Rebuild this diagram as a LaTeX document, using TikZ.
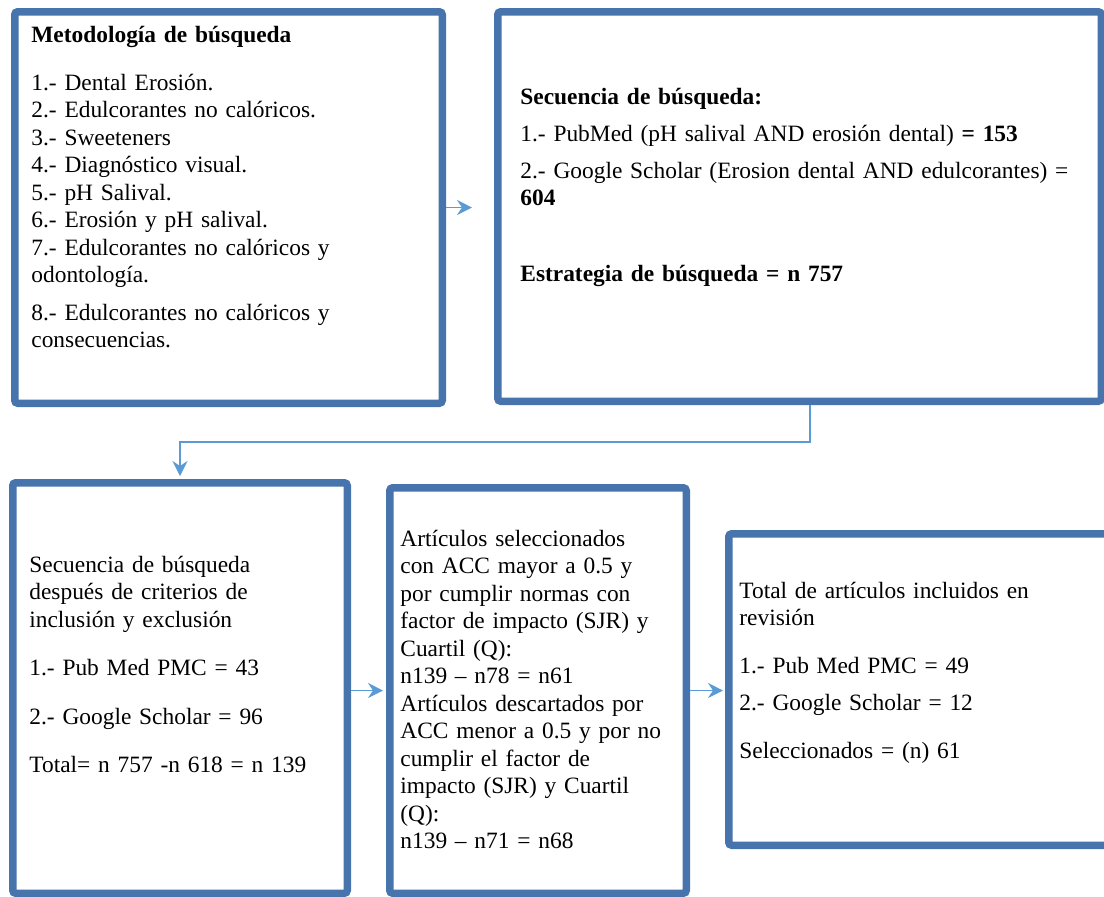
\documentclass[tikz,border=0pt]{standalone}
\usepackage{fontspec}
\setmainfont{Liberation Serif}
\usetikzlibrary{arrows.meta,shadows}

\definecolor{boxblue}{RGB}{71,116,172}
\definecolor{linkblue}{RGB}{91,155,213}

\begin{document}
\begin{tikzpicture}[x=0.5pt,y=-0.5pt,
  box/.style={draw=boxblue,line width=3.75pt,fill=white,rounded corners=1.5pt,
    anchor=north west,inner sep=0pt,
    drop shadow={shadow xshift=1.2pt,shadow yshift=-1.2pt,opacity=.3,fill=black!60}},
  txt/.style={anchor=base west,inner sep=0pt,align=left,text width=#1,
    font=\fontsize{11.7}{13.75}\selectfont},
  txt/.default=200pt,
  link/.style={draw=linkblue,line width=.7pt,-{Stealth[length=7.5pt,width=7.5pt,inset=2.5pt]}}]
	\useasboundingbox (0,0) rectangle (1104,896);
	\clip (0,0) rectangle (1104,896);
	% boxes
	\node[box,minimum width=213.75pt,minimum height=195.75pt] (metodo) at (11,8) {};
	\node[box,minimum width=301.75pt,minimum height=194.75pt] (secuencia) at (494,8) {};
	\node[box,minimum width=167.25pt,minimum height=205.25pt] (filtro) at (9,479) {};
	\node[box,minimum width=148.25pt,minimum height=202.75pt] (seleccion) at (386,484) {};
	\node[box,minimum width=198.75pt,minimum height=155.75pt] (total) at (725,530) {};
	% texts
	\node[txt=210pt] (metodoTxt) at (31,42) {\textbf{Metodología de búsqueda}\\[10.25pt]
		1.- Dental Erosión.\\
		2.- Edulcorantes no calóricos.\\
		3.- Sweeteners\\
		4.- Diagnóstico visual.\\
		5.- pH Salival.\\
		6.- Erosión y pH salival.\\
		7.- Edulcorantes no calóricos y\\
		odontología.\\[5pt]
		8.- Edulcorantes no calóricos y\\
		consecuencias.};
	\node[txt=300pt] (secuenciaTxt) at (520,104) {\textbf{Secuencia de búsqueda:}\\[4.75pt]
		1.- PubMed (pH salival AND erosión dental) \textbf{= 153}\\[4.75pt]
		2.- Google Scholar (Erosion dental AND edulcorantes) =\\
		\textbf{604}\\[24.25pt]
		\textbf{Estrategia de búsqueda = n 757}};
	\node[txt=160pt] (filtroTxt) at (29,572) {Secuencia de búsqueda\\
		después de criterios de\\
		inclusión y exclusión\\[10.25pt]
		1.- Pub Med PMC = 43\\[10.75pt]
		2.- Google Scholar = 96\\[10.25pt]
		Total= n 757 -n 618 = n 139};
	\node[txt=145pt] (seleccionTxt) at (400,546) {Artículos seleccionados\\
		con ACC mayor a 0.5 y\\
		por cumplir normas con\\
		factor de impacto (SJR) y\\
		Cuartil (Q):\\
		n139 – n78 = n61\\
		Artículos descartados por\\
		ACC menor a 0.5 y por no\\
		cumplir el factor de\\
		impacto (SJR) y Cuartil\\
		(Q):\\
		n139 – n71 = n68};
	\node[txt=180pt] (totalTxt) at (739,598) {Total de artículos incluidos en\\
		revisión\\[10.25pt]
		1.- Pub Med PMC = 49\\[4.75pt]
		2.- Google Scholar = 12\\[10.25pt]
		Seleccionados = (n) 61};
	% connectors
	\coordinate (giro) at (810,442);
	\draw[link,shorten >=11pt] (metodo.east) -- (metodo.east -| secuencia.west);
	\draw[link,shorten >=1.5pt] (giro |- secuencia.south) -- (giro) -| (filtro.north);
	\draw[link,shorten >=1.5pt] (filtro.east |- seleccion.west) -- (seleccion.west);
	\draw[link,shorten >=1pt] (seleccion.east) -- (seleccion.east -| total.west);
\end{tikzpicture}
\end{document}
